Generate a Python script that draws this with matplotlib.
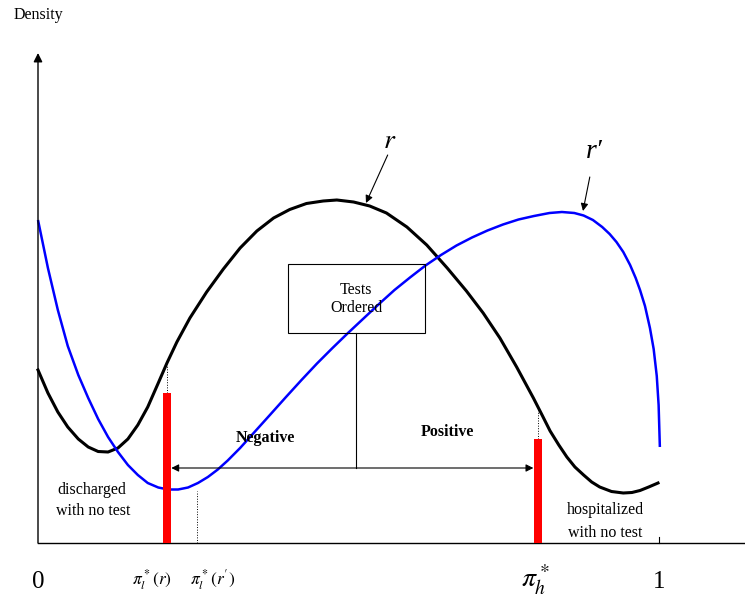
import numpy as np
import matplotlib.pyplot as plt

plt.rcParams['font.family'] = ['Liberation Serif', 'DejaVu Serif']
plt.rcParams['mathtext.fontset'] = 'stix'

# curve r (black): x in [0,1], y in density units
r_x = [0.000, 0.016, 0.032, 0.048, 0.065, 0.081, 0.097, 0.113, 0.129, 0.145,
       0.161, 0.177, 0.194, 0.208, 0.224, 0.245, 0.272, 0.299, 0.326, 0.353,
       0.380, 0.406, 0.433, 0.460, 0.482, 0.509, 0.535, 0.562, 0.595, 0.627,
       0.660, 0.691, 0.718, 0.745, 0.772, 0.799, 0.813, 0.826, 0.840, 0.853,
       0.866, 0.880, 0.893, 0.906, 0.925, 0.944, 0.958, 0.971, 0.985, 1.000]
r_y = [1.73, 1.50, 1.31, 1.16, 1.04, 0.96, 0.915, 0.91, 0.95, 1.04,
       1.18, 1.36, 1.60, 1.80, 2.01, 2.25, 2.51, 2.74, 2.95, 3.12,
       3.25, 3.335, 3.395, 3.42, 3.43, 3.41, 3.37, 3.30, 3.16, 2.98,
       2.75, 2.52, 2.30, 2.05, 1.76, 1.45, 1.28, 1.12, 0.98, 0.86,
       0.76, 0.68, 0.61, 0.56, 0.515, 0.50, 0.505, 0.525, 0.56, 0.60]

# curve r' (blue)
rp_x = [0.000, 0.016, 0.032, 0.048, 0.065, 0.081, 0.097, 0.113, 0.129, 0.145,
        0.161, 0.177, 0.194, 0.210, 0.226, 0.242, 0.258, 0.274, 0.290, 0.306,
        0.326, 0.350, 0.374, 0.400, 0.425, 0.450, 0.475, 0.500, 0.525, 0.550,
        0.575, 0.600, 0.625, 0.650, 0.675, 0.700, 0.725, 0.750, 0.775, 0.800,
        0.825, 0.845, 0.865, 0.880, 0.895, 0.910, 0.922, 0.933, 0.944, 0.955,
        0.964, 0.971, 0.979, 0.987, 0.993, 0.998, 1.001, 1.003]
rp_y = [3.23, 2.75, 2.33, 1.97, 1.68, 1.45, 1.24, 1.06, 0.91, 0.78,
        0.68, 0.60, 0.555, 0.535, 0.535, 0.555, 0.60, 0.66, 0.735, 0.825,
        0.95, 1.115, 1.28, 1.46, 1.63, 1.795, 1.95, 2.10, 2.245, 2.39,
        2.53, 2.655, 2.775, 2.88, 2.975, 3.055, 3.125, 3.185, 3.235, 3.27,
        3.30, 3.31, 3.30, 3.275, 3.23, 3.16, 3.09, 3.01, 2.91, 2.78,
        2.65, 2.53, 2.37, 2.15, 1.94, 1.67, 1.38, 0.96]

pi_l_r = 0.208
pi_l_rp = 0.257
pi_h = 0.806
bar_l_h = 1.50
bar_h_h = 1.04

fig = plt.figure(figsize=(7.45, 5.98), dpi=100)
ax = fig.add_axes([0, 0, 1, 1])
ax.set_xlim(-38 / 620, 707 / 620)
ax.set_ylim(-0.55, 5.43)
ax.axis('off')

ax.plot(r_x, r_y, color='black', lw=2.2, solid_joinstyle='round')
ax.plot(rp_x, rp_y, color='#0000ff', lw=1.8, solid_joinstyle='round',
        solid_capstyle='butt')

# axes
ax.plot([0, 707 / 620], [0, 0], color='black', lw=1.0)
ax.annotate('', xy=(0, 4.90), xytext=(0, 0),
            arrowprops=dict(arrowstyle='-|>', color='black', lw=1.0,
                            mutation_scale=13, shrinkA=0, shrinkB=0))
ax.plot([1.002, 1.002], [0, 0.06], color='black', lw=0.8)

# red bars and dotted guides
ax.bar([pi_l_r, pi_h], [bar_l_h, bar_h_h], width=0.0122, color='#ff0000', zorder=3)
ax.plot([pi_l_r, pi_l_r], [bar_l_h, 1.78], color='black', lw=0.7, ls=':')
ax.plot([pi_h, pi_h], [bar_h_h, 1.33], color='black', lw=0.7, ls=':')
ax.plot([pi_l_rp, pi_l_rp], [0, 0.52], color='black', lw=0.7, ls=':')

# tests ordered box and branches
ax.add_patch(plt.Rectangle((0.403, 2.10), 0.221, 0.69, fill=False,
                           ec='black', lw=0.8, zorder=4))
ax.text(0.513, 2.53, 'Tests', ha='center', va='center', fontsize=11.5)
ax.text(0.513, 2.35, 'Ordered', ha='center', va='center', fontsize=11.5)
ax.plot([0.513, 0.513], [0.75, 2.10], color='black', lw=0.8)
ax.annotate('', xy=(pi_l_r + 0.007, 0.75), xytext=(pi_h - 0.007, 0.75),
            arrowprops=dict(arrowstyle='<|-|>', color='black', lw=0.8,
                            mutation_scale=11, shrinkA=0, shrinkB=0))
ax.text(0.366, 1.05, 'Negative', ha='center', va='center', fontsize=11.5,
        fontweight='bold')
ax.text(0.660, 1.11, 'Positive', ha='center', va='center', fontsize=11.5,
        fontweight='bold')

ax.text(0.087, 0.53, 'discharged', ha='center', va='center', fontsize=11.5)
ax.text(0.089, 0.32, 'with no test', ha='center', va='center', fontsize=11.5)
ax.text(0.915, 0.33, 'hospitalized', ha='center', va='center', fontsize=11.5)
ax.text(0.915, 0.10, 'with no test', ha='center', va='center', fontsize=11.5)

# curve labels
ax.annotate('', xy=(0.529, 3.40), xytext=(0.564, 3.88),
            arrowprops=dict(arrowstyle='-|>', color='black', lw=0.8,
                            mutation_scale=11, shrinkA=0, shrinkB=0))
ax.text(0.568, 4.02, '$r$', ha='center', va='center', fontsize=20)
ax.annotate('', xy=(0.879, 3.32), xytext=(0.890, 3.66),
            arrowprops=dict(arrowstyle='-|>', color='black', lw=0.8,
                            mutation_scale=11, shrinkA=0, shrinkB=0))
ax.text(0.897, 3.91, 'r\u2032', ha='center', va='center', fontsize=20,
        style='italic', family=['Liberation Serif', 'DejaVu Serif'])

# x tick labels
ax.text(0, -0.39, '0', ha='center', va='center', fontsize=18)
ax.text(1.002, -0.39, '1', ha='center', va='center', fontsize=18)
ax.text(0.183, -0.37, r'$\pi_l^*(r)$', ha='center', va='center', fontsize=12.5)
ax.text(0.282, -0.37, r"$\pi_l^*(r')$", ha='center', va='center', fontsize=12.5)
ax.text(0.803, -0.37, r'$\pi_h^*$', ha='center', va='center', fontsize=20)

ax.text(0.0, 5.28, 'Density', ha='center', va='center', fontsize=11.5)

fig.savefig('out.png', dpi=100)
